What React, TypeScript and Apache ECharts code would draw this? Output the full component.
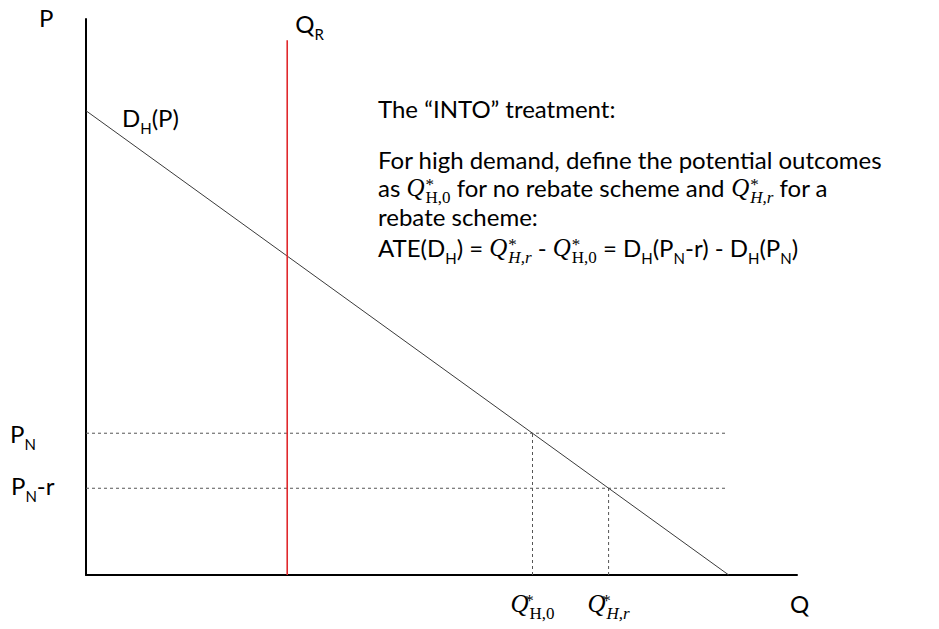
import React, { useEffect, useRef } from "react";
import * as echarts from "echarts";

// Demand curve D_H(P): endpoints (Q, P)
const demandQ = [0, 90.4];
const demandP = [83.5, 0];
// Rebate capacity line Q_R
const rebateCapQ = 28.3;
const rebateCapTopP = 96.2;
// Price levels: P_N and P_N - r
const priceLevels = [25.5, 15.6];
// Equilibrium quantities Q*_{H,0}, Q*_{H,r}
const equilibriumQ = [62.8, 73.5];
// End of dashed price guides
const guideEndQ = 90;
const axisMaxQ = 100;
const axisMaxP = 100;

const SANS = "Lato";
const SERIF = "Liberation Serif";
const FS = 24;
const L = 36;

const rich = {
  m: { fontFamily: SANS, fontSize: FS, lineHeight: L, fill: "#000" },
  s: { fontFamily: SANS, fontSize: 15, lineHeight: 15, verticalAlign: "bottom", fill: "#000" },
  q: { fontFamily: SERIF, fontStyle: "italic", fontSize: 25, lineHeight: L, fill: "#000" },
  st: { fontFamily: SERIF, fontSize: 17, lineHeight: 17, verticalAlign: "top", padding: [6, 0, 0, 1], width: 0, fill: "#000" },
  hs: { fontFamily: SERIF, fontSize: 17, lineHeight: 17, verticalAlign: "bottom", fill: "#000" },
  hi: { fontFamily: SERIF, fontStyle: "italic", fontSize: 17, lineHeight: 17, verticalAlign: "bottom", fill: "#000" },
};

function rtext(x: number, baseline: number, text: string, align: string = "left") {
  return {
    type: "text",
    x,
    y: baseline - 0.387 * FS,
    silent: true,
    style: {
      text,
      rich,
      fontFamily: SANS,
      fontSize: FS,
      fill: "#000",
      align,
      verticalAlign: "middle",
    },
  };
}

export default function App() {
  const ref = useRef<HTMLDivElement>(null);
  useEffect(() => {
    const chart = echarts.init(ref.current!, null, { renderer: "svg" });
    const guideStyle = { color: "#555", width: 1, type: [3, 3] };
    const axisCommon = {
      type: "value",
      axisLine: { show: true, onZero: false, lineStyle: { color: "#000", width: 2 } },
      axisTick: { show: false },
      axisLabel: { show: false },
      splitLine: { show: false },
    };
    chart.setOption({
      animation: false,
      backgroundColor: "#fff",
      grid: { left: 86, top: 19, width: 711, height: 556 },
      xAxis: { ...axisCommon, min: 0, max: axisMaxQ },
      yAxis: { ...axisCommon, min: 0, max: axisMaxP },
      series: [
        ...priceLevels.map((p) => ({
          type: "line",
          data: [[0, p], [guideEndQ, p]],
          symbol: "none",
          silent: true,
          lineStyle: guideStyle,
        })),
        ...equilibriumQ.map((q, i) => ({
          type: "line",
          data: [[q, 0], [q, priceLevels[i]]],
          symbol: "none",
          silent: true,
          lineStyle: guideStyle,
        })),
        {
          type: "line",
          data: demandQ.map((q, i) => [q, demandP[i]]),
          symbol: "none",
          silent: true,
          lineStyle: { color: "#3a3a3a", width: 1 },
        },
        {
          type: "line",
          data: [[rebateCapQ, 0], [rebateCapQ, rebateCapTopP]],
          symbol: "none",
          silent: true,
          lineStyle: { color: "#e0282c", width: 1.6 },
        },
      ],
    });

    const px = (q: number, p: number) => chart.convertToPixel({ gridIndex: 0 }, [q, p]) as number[];
    const pN = px(0, priceLevels[0]);
    const pNr = px(0, priceLevels[1]);
    const q0 = px(equilibriumQ[0], 0);
    const qr = px(equilibriumQ[1], 0);
    const qR = px(rebateCapQ, rebateCapTopP);
    const dTop = px(demandQ[0], demandP[0]);
    const origin = px(0, 0);
    const qEnd = px(axisMaxQ, 0);
    const pEnd = px(0, axisMaxP);

    chart.setOption({
      graphic: {
        elements: [
          rtext(39, pEnd[1] + 8, "{m|P}"),
          rtext(qEnd[0] - 7, origin[1] + 38, "{m|Q}"),
          rtext(qR[0] + 8, qR[1] - 7, "{m|Q}{s|R}"),
          rtext(dTop[0] + 36, dTop[1] + 16, "{m|D}{s|H}{m|(P)}"),
          rtext(10, pN[1] + 10, "{m|P}{s|N}"),
          rtext(11, pNr[1] + 7, "{m|P}{s|N}{m|-r}"),
          rtext(q0[0], origin[1] + 38, "{q|Q}{st|*}{hs|H,0}", "center"),
          rtext(qr[0], origin[1] + 38, "{q|Q}{st|*}{hi|H,r}", "center"),
          rtext(378, 118, "{m|The \u201cINTO\u201d treatment:}"),
          rtext(378, 169, "{m|For high demand, define the potential outcomes}"),
          rtext(378, 197, "{m|as }{q|Q}{st|*}{hs|H,0}{m| for no rebate scheme and }{q|Q}{st|*}{hi|H,r}{m| for a}"),
          rtext(378, 226, "{m|rebate scheme:}"),
          rtext(
            378,
            257,
            "{m|ATE(D}{s|H}{m|) = }{q|Q}{st|*}{hi|H,r}{m| - }{q|Q}{st|*}{hs|H,0}{m| = D}{s|H}{m|(P}{s|N}{m|-r) - D}{s|H}{m|(P}{s|N}{m|)}"
          ),
        ],
      },
    });
    return () => chart.dispose();
  }, []);
  return (
    <div
      ref={ref}
      style={{ position: "absolute", left: 0, top: 0, width: 939, height: 629, background: "#fff" }}
    />
  );
}
